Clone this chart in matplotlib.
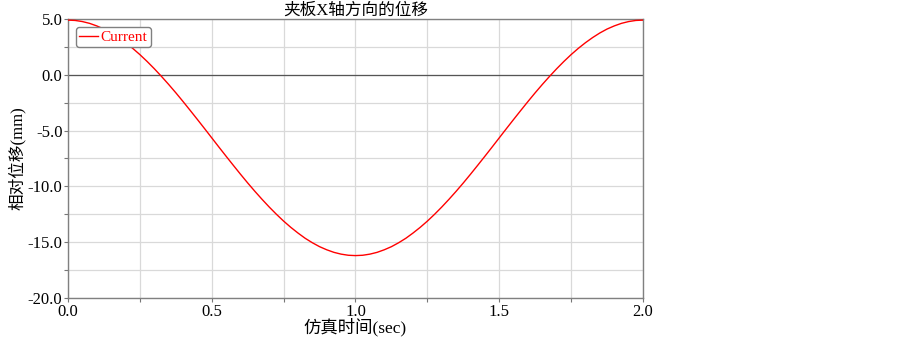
import matplotlib
matplotlib.use("Agg")
import matplotlib.pyplot as plt
import numpy as np

plt.rcParams['font.family'] = ['Liberation Serif', 'Noto Sans CJK SC', 'DejaVu Sans']

# time (sec) and relative displacement (mm)
time_s = [0.0, 0.025, 0.05, 0.075, 0.1, 0.125, 0.15, 0.175, 0.2, 0.225,
          0.25, 0.275, 0.3, 0.325, 0.35, 0.375, 0.4, 0.425, 0.45, 0.475,
          0.5, 0.525, 0.55, 0.575, 0.6, 0.625, 0.65, 0.675, 0.7, 0.725,
          0.75, 0.775, 0.8, 0.825, 0.85, 0.875, 0.9, 0.925, 0.95, 0.975,
          1.0, 1.025, 1.05, 1.075, 1.1, 1.125, 1.15, 1.175, 1.2, 1.225,
          1.25, 1.275, 1.3, 1.325, 1.35, 1.375, 1.4, 1.425, 1.45, 1.475,
          1.5, 1.525, 1.55, 1.575, 1.6, 1.625, 1.65, 1.675, 1.7, 1.725,
          1.75, 1.775, 1.8, 1.825, 1.85, 1.875, 1.9, 1.925, 1.95, 1.975, 2.0]
disp_mm = [4.90, 4.87, 4.77, 4.61, 4.38, 4.10, 3.75, 3.34, 2.88, 2.37,
           1.81, 1.20, 0.55, -0.14, -0.86, -1.61, -2.39, -3.19, -4.00, -4.82,
           -5.65, -6.48, -7.30, -8.11, -8.91, -9.69, -10.44, -11.16, -11.85, -12.50,
           -13.11, -13.67, -14.18, -14.65, -15.05, -15.40, -15.68, -15.91, -16.07, -16.17,
           -16.20, -16.17, -16.07, -15.91, -15.68, -15.40, -15.05, -14.65, -14.18, -13.67,
           -13.11, -12.50, -11.85, -11.16, -10.44, -9.69, -8.91, -8.11, -7.30, -6.48,
           -5.65, -4.82, -4.00, -3.19, -2.39, -1.61, -0.86, -0.14, 0.55, 1.20,
           1.81, 2.37, 2.88, 3.34, 3.75, 4.10, 4.38, 4.61, 4.77, 4.87, 4.90]

x_ticks = [0.0, 0.5, 1.0, 1.5, 2.0]
y_ticks = [5.0, 0.0, -5.0, -10.0, -15.0, -20.0]

fig = plt.figure(figsize=(9.03, 3.37), dpi=100)
ax = fig.add_axes([68 / 903, 39 / 337, 575 / 903, 279 / 337])

ax.plot(time_s, disp_mm, color='red', lw=1.0, label='Current', zorder=3)
ax.axhline(0, color='#555555', lw=0.9, zorder=2)

ax.set_xlim(0, 2.0)
ax.set_ylim(-20, 5)
ax.set_xticks(x_ticks)
ax.set_xticklabels([f'{v:.1f}' for v in x_ticks])
ax.set_yticks(y_ticks)
ax.set_yticklabels([f'{v:.1f}' for v in y_ticks])
ax.set_xticks(np.arange(0.25, 2.0, 0.5), minor=True)
ax.set_yticks(np.arange(-17.5, 5, 5), minor=True)
ax.grid(True, which='both', color='#d9d9d9', lw=0.9, zorder=0)
ax.tick_params(which='both', direction='out', length=3, width=0.8,
               color='#777777', labelsize=12, pad=1)
for s in ax.spines.values():
    s.set_color('#808080')
    s.set_linewidth(1.0)

ax.set_title('夹板X轴方向的位移', fontsize=12, pad=2)
ax.set_xlabel('仿真时间(sec)', fontsize=12.5, labelpad=-1)
ax.set_ylabel('相对位移(mm)', fontsize=12, labelpad=1)

leg = ax.legend(loc='upper left', fontsize=11, frameon=True, handlelength=1.2,
                handletextpad=0.2, borderpad=0.2, borderaxespad=0.55,
                fancybox=True, edgecolor='#808080', framealpha=1)
for t in leg.get_texts():
    t.set_color('red')

fig.savefig('out.png', dpi=100)
